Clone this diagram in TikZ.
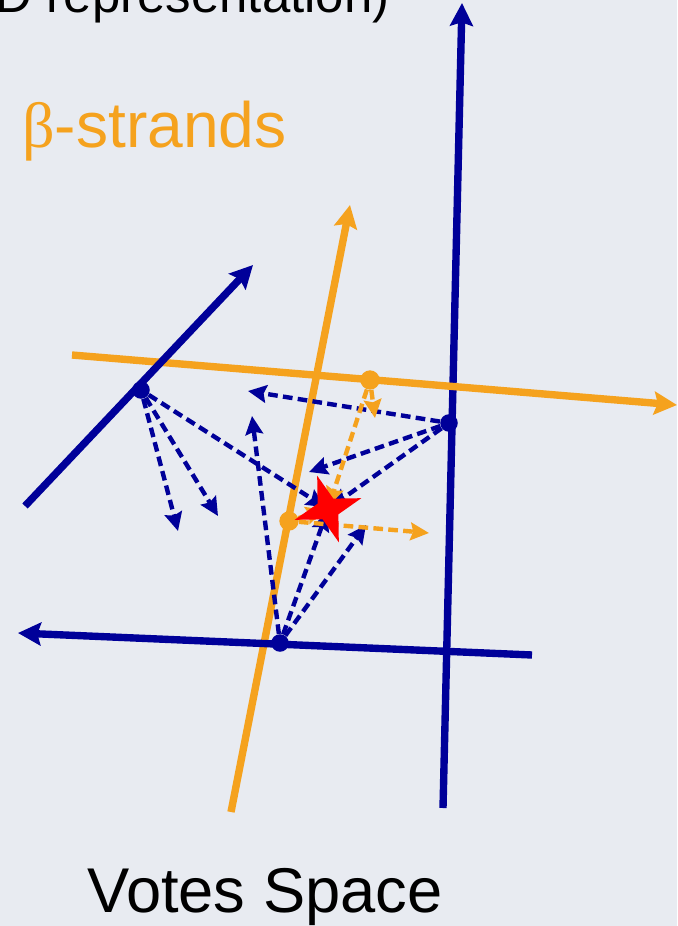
\documentclass[tikz,border=0pt]{standalone}
\usepackage{fontspec}
\setmainfont{Liberation Sans}
\newfontfamily\greekfont{Liberation Serif}
\usepackage{tikz}
\usetikzlibrary{arrows.meta,shapes.geometric}
\definecolor{votebg}{RGB}{232,235,241}
\definecolor{votenavy}{RGB}{0,0,153}
\definecolor{strandorange}{RGB}{245,162,30}
\definecolor{starred}{RGB}{255,0,0}

\begin{document}
\begin{tikzpicture}[
  x=0.02cm, y=-0.02cm,
  axis/.style={line width=4.2pt,-{Stealth[length=13pt,width=13pt,inset=2pt]}},
  vote/.style={line width=2.5pt,dash pattern=on 5.5pt off 3pt,
    -{Stealth[length=10.5pt,width=10pt,inset=1.5pt]}},
  hitvote/.style={vote,shorten >=2pt},
  bluedot/.style={circle,fill=votenavy,inner sep=0pt,minimum size=10pt},
  orangedot/.style={circle,fill=strandorange,inner sep=0pt,minimum size=11pt},
  label/.style={inner sep=0pt,anchor=base west}
]
  \useasboundingbox (0,0) rectangle (677,926);
  \fill[votebg] (0,0) rectangle (677,926);

  % titles
  \node[inner sep=0pt,anchor=base east,font=\fontsize{29}{34}\selectfont] (title) at (390,13)
    {(3D representation)};
  \node[label,text=strandorange,font=\fontsize{36.5}{42}\selectfont] (strands) at (22,148)
    {{\greekfont β}-strands};
  \node[label,font=\fontsize{36}{42}\selectfont] (votes) at (87,912) {Votes Space};

  % axes of the votes space
  \coordinate (bv0) at (443,808);  \coordinate (bv1) at (462,3);
  \coordinate (ot0) at (231,812);  \coordinate (ot1) at (350,205);
  \coordinate (oh0) at (72,355);   \coordinate (oh1) at (677,405);
  \coordinate (bd0) at (25,506);   \coordinate (bd1) at (253,265);
  \coordinate (bh0) at (532,655);  \coordinate (bh1) at (18,633);
  \draw[axis,votenavy] (bv0) -- (bv1);
  \draw[axis,strandorange] (ot0) -- (ot1);
  \draw[axis,strandorange] (oh0) -- (oh1);
  \draw[axis,votenavy] (bd0) -- (bd1);
  \draw[axis,votenavy] (bh0) -- (bh1);

  % voters
  \node[bluedot] (p1) at (141,390) {};
  \node[bluedot] (p2) at (449,423) {};
  \node[bluedot] (p3) at (280,643) {};
  \node[orangedot] (o1) at (370,380) {};
  \node[orangedot] (o2) at (289,521) {};
  \coordinate (hit) at (328,509);

  % votes
  \coordinate (a1) at (178,531); \coordinate (a2) at (218,516);
  \coordinate (a3) at (248,391); \coordinate (a4) at (309,472);
  \coordinate (a5) at (252,416); \coordinate (a6) at (366,525);
  \coordinate (a7) at (375,418); \coordinate (a8) at (429,533);
  \draw[vote,votenavy] (p1) -- (a1);
  \draw[vote,votenavy] (p1) -- (a2);
  \draw[hitvote,votenavy] (p1) -- (hit);
  \draw[vote,votenavy] (p2) -- (a3);
  \draw[vote,votenavy] (p2) -- (a4);
  \draw[hitvote,votenavy] (p2) -- (hit);
  \draw[vote,votenavy] (p3) -- (a5);
  \draw[hitvote,votenavy] (p3) -- (hit);
  \draw[vote,votenavy] (p3) -- (a6);
  \draw[vote,strandorange] (o1) -- (a7);
  \draw[hitvote,strandorange] (o1) -- (hit);
  \draw[vote,strandorange] (o2) -- (a8);
  \draw[hitvote,strandorange] (o2) -- (hit);

  \node[star,star points=4,star point ratio=3,minimum size=1.4cm,inner sep=0pt,
    fill=starred,shape border rotate=18] (target) at (hit) {};
\end{tikzpicture}
\end{document}
